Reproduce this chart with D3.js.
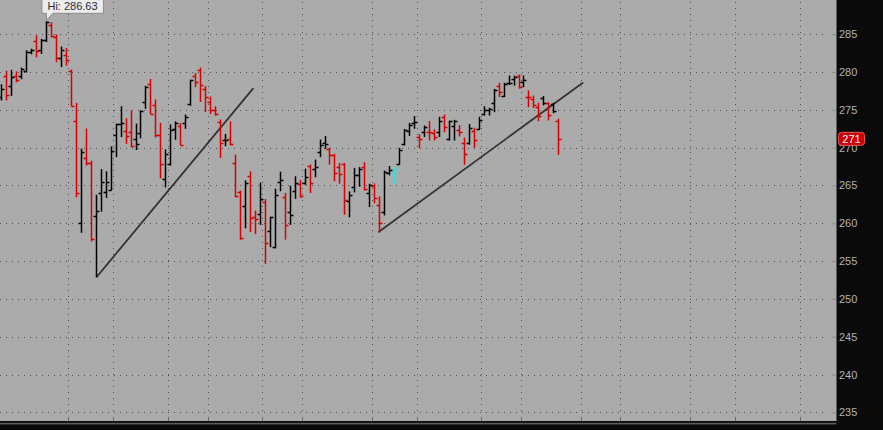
<!DOCTYPE html>
<html>
<head>
<meta charset="utf-8">
<script src="https://d3js.org/d3.v7.min.js"></script>
<style>
  html, body { margin: 0; padding: 0; background: #0a0a0a; overflow: hidden; }
  svg { display: block; font-family: "Liberation Sans", Arial, sans-serif; }
</style>
</head>
<body>
<div id="chart"></div>
<script>
// OHLC values, one entry per bar (left to right)
const opens = [276.7,279.5,278.1,279.4,279.4,280.1,282.65,284.1,282.9,284.2,286.2,284.65,281.85,282.25,280.1,
  273.5,260.0,268.6,267.9,260.9,264.0,264.1,264.4,271.6,273.1,272.2,272.05,271.2,271.9,276.0,
  278.4,275.6,271.6,265.85,267.8,272.5,272.9,273.2,275.7,279.4,280.2,277.8,276.0,275.0,273.4,
  271.0,271.2,267.9,264.15,262.3,266.25,260.8,261.2,262.85,258.95,256.8,265.5,263.5,261.55,264.3,
  265.2,265.3,267.55,267.2,269.45,270.55,269.8,269.0,267.4,267.8,263.0,264.85,266.4,267.5,264.05,
  264.9,262.4,261.55,266.7,266.5,267.8,270.45,272.2,273.2,271.4,272.1,272.1,271.95,272.1,274.0,
  271.1,272.85,272.3,270.65,270.65,272.2,272.4,274.45,274.95,275.85,278.15,276.8,278.5,279.0,279.45,
  278.7,276.75,276.4,275.3,276.5,275.85,275.75,273.5];
const highs = [278.3,280.1,280.2,280.0,280.5,282.8,283.0,284.75,284.3,286.63,286.5,284.9,283.3,283.1,280.25,
  275.85,269.8,272.45,268.2,263.7,267.1,266.8,270.1,273.1,275.4,273.8,274.85,273.1,274.85,278.1,
  279.0,276.3,273.2,269.7,273.0,273.4,273.2,274.3,278.9,279.8,280.5,278.05,276.7,275.4,273.65,
  271.75,273.4,269.0,264.25,265.6,266.8,261.6,265.3,263.15,260.8,264.5,266.75,263.95,264.9,266.15,
  265.65,267.15,267.7,268.35,271.0,271.45,269.9,269.1,267.9,267.9,264.15,267.25,267.35,268.0,265.15,
  265.2,263.5,266.9,267.5,267.4,269.9,272.4,273.2,274.1,271.7,272.85,273.45,272.35,274.0,274.3,
  273.5,273.6,272.9,271.25,273.05,272.55,274.0,275.4,275.2,277.7,278.5,278.5,279.45,279.45,279.6,
  279.45,277.5,276.8,275.85,276.75,275.95,275.85,273.75];
const lows = [276.3,276.3,276.9,278.7,279.1,280.0,282.4,282.0,282.45,284.0,284.65,281.35,280.7,280.9,275.5,
  263.5,258.8,267.7,257.65,252.9,261.6,263.4,264.4,268.8,271.45,270.55,270.1,269.75,271.3,275.2,
  274.5,271.4,266.0,264.8,267.7,271.1,270.35,272.55,275.6,278.05,276.1,274.75,274.5,274.3,268.7,
  270.25,270.35,263.5,257.9,259.4,258.9,258.65,259.85,254.7,256.9,256.75,264.3,257.9,259.85,263.3,
  263.45,265.15,264.05,266.15,268.8,269.9,267.8,265.6,265.3,261.2,260.85,264.15,264.9,264.4,262.2,
  262.7,258.85,261.1,266.4,265.2,267.8,270.35,271.6,272.55,270.0,271.45,271.0,271.0,271.45,272.1,
  271.0,271.0,271.55,267.8,270.45,270.05,272.4,274.3,274.3,274.75,276.75,276.75,278.35,278.25,277.85,
  278.05,275.4,275.3,273.55,275.65,273.65,274.6,269.1];
const closes = [277.8,277.0,279.3,278.9,280.35,282.65,282.9,282.8,284.2,286.6,284.75,281.85,282.9,281.6,275.5,
  264.0,269.4,267.9,257.9,261.6,265.4,265.45,269.6,273.1,273.2,271.55,270.2,270.5,274.8,278.05,
  274.5,271.6,267.8,269.15,272.3,273.2,270.4,274.0,278.9,278.7,278.3,276.65,275.0,274.4,270.6,
  271.0,270.45,263.65,258.1,265.3,260.65,260.5,263.15,257.45,260.8,263.75,265.7,259.75,261.1,265.35,
  263.6,266.05,265.3,267.4,270.35,270.45,269.0,266.7,266.5,263.05,263.75,266.4,267.15,264.55,265.05,
  263.3,260.0,266.8,267.0,267.1,269.7,272.3,273.0,273.35,271.1,272.75,272.0,271.45,273.5,272.75,
  273.5,273.55,272.1,269.1,272.55,271.0,273.65,274.95,275.05,277.6,277.4,278.35,278.6,279.3,278.05,
  278.9,276.65,275.65,274.2,275.95,274.3,274.9,271.09];

const highlightBar = 79;          // the one cyan bar
// bar indices after which a dotted vertical divider is drawn
const sessionBreaks = [13,22,33,41,52,60,74,83,96,104,116,124,138,147,160];
const priceTicks = [235,240,245,250,255,260,265,270,275,280,285,290];
// hand drawn trend lines, [bar index, price]
const trendLine1 = [[19.2,252.9],[50.7,277.85]];
const trendLine2 = [[75.8,258.8],[117,278.6]];

const width = 883, height = 430;
const plotRight = 836.5, plotBottom = 421;

const x = d3.scaleLinear().domain([0, closes.length - 1]).range([1.2, 558.3]);
const y = d3.scaleLinear().domain([235, 285]).range([412.4, 34.1]);
const px = d => Math.round(x(d)) + 0.5;
const py = d => Math.round(y(d)) + 0.5;

const svg = d3.select("#chart").append("svg")
  .attr("width", width)
  .attr("height", height);

//Backgrounds
svg.append("rect").attr("width", width).attr("height", height).attr("fill", "#0a0a0a");
svg.append("rect").attr("width", plotRight).attr("height", plotBottom).attr("fill", "#ababab");

//Bottom band under the plot
svg.append("line").attr("x1", 0).attr("x2", plotRight).attr("y1", 422.5).attr("y2", 422.5)
  .attr("stroke", "#1c1c1c");
svg.append("line").attr("x1", 0).attr("x2", plotRight).attr("y1", 423.5).attr("y2", 423.5)
  .attr("stroke", "#5c5c5c");
svg.append("line").attr("x1", 0).attr("x2", plotRight).attr("y1", 424.5).attr("y2", 424.5)
  .attr("stroke", "#2e2e2e");

//Dotted horizontal grid
svg.append("g")
  .selectAll("line")
  .data(priceTicks)
  .join("line")
    .attr("x1", 0)
    .attr("x2", 828)
    .attr("y1", d => py(d))
    .attr("y2", d => py(d))
    .attr("stroke", "#4e4e4e")
    .attr("stroke-dasharray", "1 5")
    .attr("shape-rendering", "crispEdges");

//Dotted vertical grid + small ticks at the bottom
const vg = svg.append("g");
vg.selectAll("line.grid")
  .data(sessionBreaks)
  .join("line")
    .attr("class", "grid")
    .attr("x1", d => px(d + 0.5))
    .attr("x2", d => px(d + 0.5))
    .attr("y1", 2)
    .attr("y2", 416)
    .attr("stroke", "#4e4e4e")
    .attr("stroke-dasharray", "1 5")
    .attr("shape-rendering", "crispEdges");
vg.selectAll("line.tick")
  .data(sessionBreaks)
  .join("line")
    .attr("class", "tick")
    .attr("x1", d => px(d + 0.5))
    .attr("x2", d => px(d + 0.5))
    .attr("y1", 417)
    .attr("y2", 421)
    .attr("stroke", "#6a6a6a")
    .attr("shape-rendering", "crispEdges");

//Trend lines
const line = d3.line().x(d => x(d[0])).y(d => y(d[1]));
svg.append("g")
  .selectAll("path")
  .data([trendLine1, trendLine2])
  .join("path")
    .attr("d", line)
    .attr("fill", "none")
    .attr("stroke", "#333")
    .attr("stroke-width", 1.8);

//OHLC bars, coloured against the previous close
function barColor(i) {
  if (i === highlightBar) return "#2fe3ee";
  var prev = i > 0 ? closes[i - 1] : opens[i];
  return closes[i] >= prev ? "#000" : "#d90000";
}

const bars = svg.append("g")
  .attr("stroke-width", 1.5)
  .selectAll("g")
  .data(d3.range(closes.length))
  .join("g")
    .attr("stroke", d => barColor(d));

bars.append("line")
  .attr("x1", d => px(d)).attr("x2", d => px(d))
  .attr("y1", d => y(highs[d]) - 0.5).attr("y2", d => y(lows[d]) + 0.5);
bars.append("line")
  .attr("x1", d => px(d) - 3).attr("x2", d => px(d))
  .attr("y1", d => py(opens[d])).attr("y2", d => py(opens[d]));
bars.append("line")
  .attr("x1", d => px(d)).attr("x2", d => px(d) + 3)
  .attr("y1", d => py(closes[d])).attr("y2", d => py(closes[d]));

//Right price axis
svg.append("g")
  .attr("transform", "translate(832,0)")
  .call(d3.axisRight(y).tickValues(priceTicks).tickSize(4).tickPadding(3).tickFormat(d3.format("d")))
  .call(g => g.select(".domain").remove())
  .call(g => g.selectAll(".tick line").attr("stroke", "#8c8c8c"))
  .call(g => g.selectAll(".tick text")
    .attr("fill", "#b2b2b2")
    .style("font-size", "11px")
    .style("font-family", "'Liberation Sans', Arial, sans-serif"));

//Last price bubble
const last = closes[closes.length - 1];
svg.append("rect")
  .attr("x", 838.5).attr("y", y(last) - 7)
  .attr("width", 26).attr("height", 13).attr("rx", 3)
  .attr("fill", "#cc0000").attr("stroke", "#ff6a6a").attr("stroke-width", 0.8);
svg.append("text")
  .attr("x", 851.5).attr("y", y(last) + 3.5)
  .attr("text-anchor", "middle")
  .attr("fill", "#fff")
  .style("font-size", "11px")
  .text(Math.round(last));

//High callout
const hiIdx = d3.maxIndex(highs);
const tipX = x(hiIdx) + 0.5, tipY = y(highs[hiIdx]) - 1.5;
const callout = svg.append("g");
callout.append("path")
  .attr("d", "M" + (tipX - 4.5) + "," + (-3) +
             "h61.5 v16.3 h-50.5 l-" + 6.5 + "," + (tipY - 13.3) + " v-" + (tipY - 13.3) +
             " h-4.5 z")
  .attr("fill", "#ececec")
  .attr("stroke", "#8e8e8e")
  .attr("stroke-width", 1);
callout.append("text")
  .attr("x", tipX + 1)
  .attr("y", 10)
  .attr("fill", "#2a2a3a")
  .style("font-size", "11px")
  .text("Hi: " + d3.format(".2f")(highs[hiIdx]));
</script>
</body>
</html>
